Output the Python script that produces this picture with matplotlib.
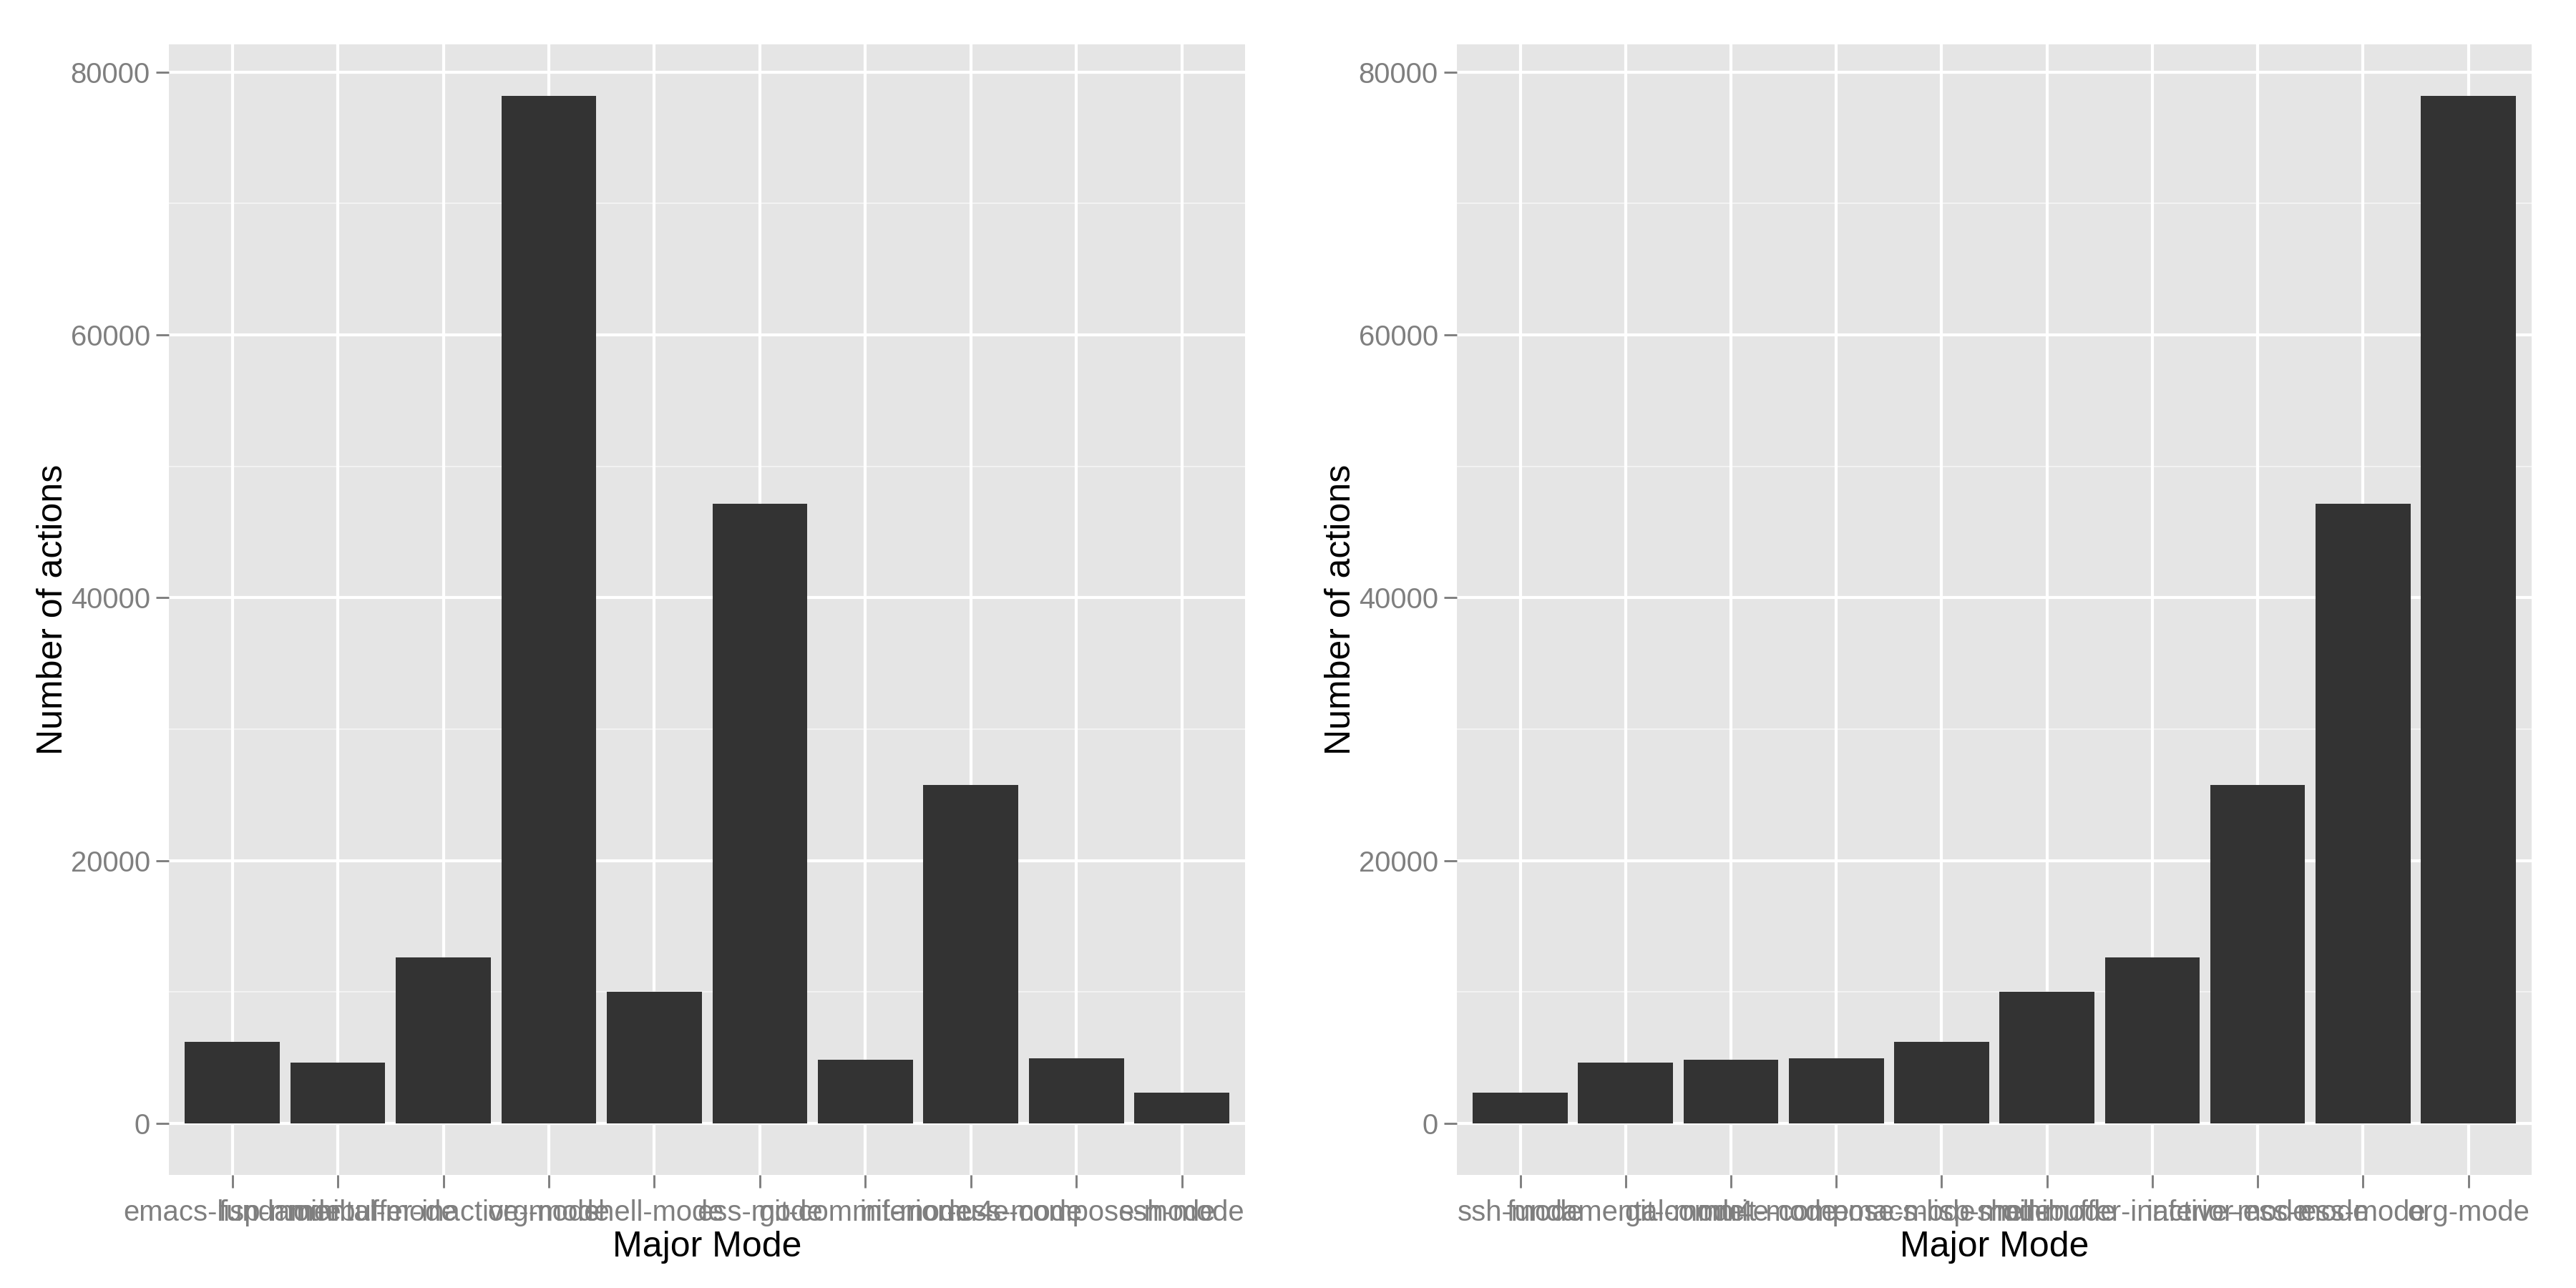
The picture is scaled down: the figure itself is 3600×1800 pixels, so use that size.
import matplotlib.pyplot as plt

# actions per major mode
modes = ["emacs-lisp-mode", "fundamental-mode", "minibuffer-inactive-mode",
         "org-mode", "shell-mode", "ess-mode", "git-commit-mode",
         "inferior-ess-mode", "mu4e-compose-mode", "ssh-mode"]
actions = [6230, 4650, 12640, 78200, 10030, 47130, 4870, 25780, 4980, 2370]

y_ticks = [0, 20000, 40000, 60000, 80000]
y_minor = [10000, 30000, 50000, 70000]

plt.rcParams['font.family'] = ['Liberation Sans', 'DejaVu Sans']

BG = '#E5E5E5'
BAR = '#333333'
TXT = '#7F7F7F'


def gg_bar(ax, labels, values):
    x = list(range(1, len(labels) + 1))
    ax.set_facecolor(BG)
    for s in ax.spines.values():
        s.set_visible(False)
    # grid
    for v in y_minor:
        ax.axhline(v, color='#F2F2F2', lw=0.5, zorder=1)
    for v in y_ticks:
        ax.axhline(v, color='white', lw=1.0, zorder=1)
    for xi in x:
        ax.axvline(xi, color='white', lw=1.0, zorder=1)
    ax.bar(x, values, width=0.9, color=BAR, zorder=2)
    ax.set_xlim(0.4, len(labels) + 0.6)
    ymax = max(values)
    ax.set_ylim(-0.05 * ymax, 1.05 * ymax)
    ax.set_xticks(x)
    ax.set_xticklabels(labels)
    ax.set_yticks(y_ticks)
    ax.set_yticklabels([str(v) for v in y_ticks])
    ax.tick_params(axis='both', colors=TXT, labelcolor=TXT, labelsize=9.6,
                   length=4.3, width=0.7, pad=2)
    ax.tick_params(axis='x', pad=3.8)
    ax.set_xlabel('Major Mode', fontsize=12, color='black', labelpad=1.5)
    ax.set_ylabel('Number of actions', fontsize=12, color='black', labelpad=0.5)


fig = plt.figure(figsize=(12, 6), dpi=300)
ax1 = fig.add_axes([0.0656, 0.0878, 0.4178, 0.8778])
ax2 = fig.add_axes([0.5656, 0.0878, 0.4172, 0.8778])

gg_bar(ax1, modes, actions)

order = sorted(range(len(actions)), key=lambda i: actions[i])
gg_bar(ax2, [modes[i] for i in order], [actions[i] for i in order])

fig.savefig('out.png', dpi=300, facecolor='white')
